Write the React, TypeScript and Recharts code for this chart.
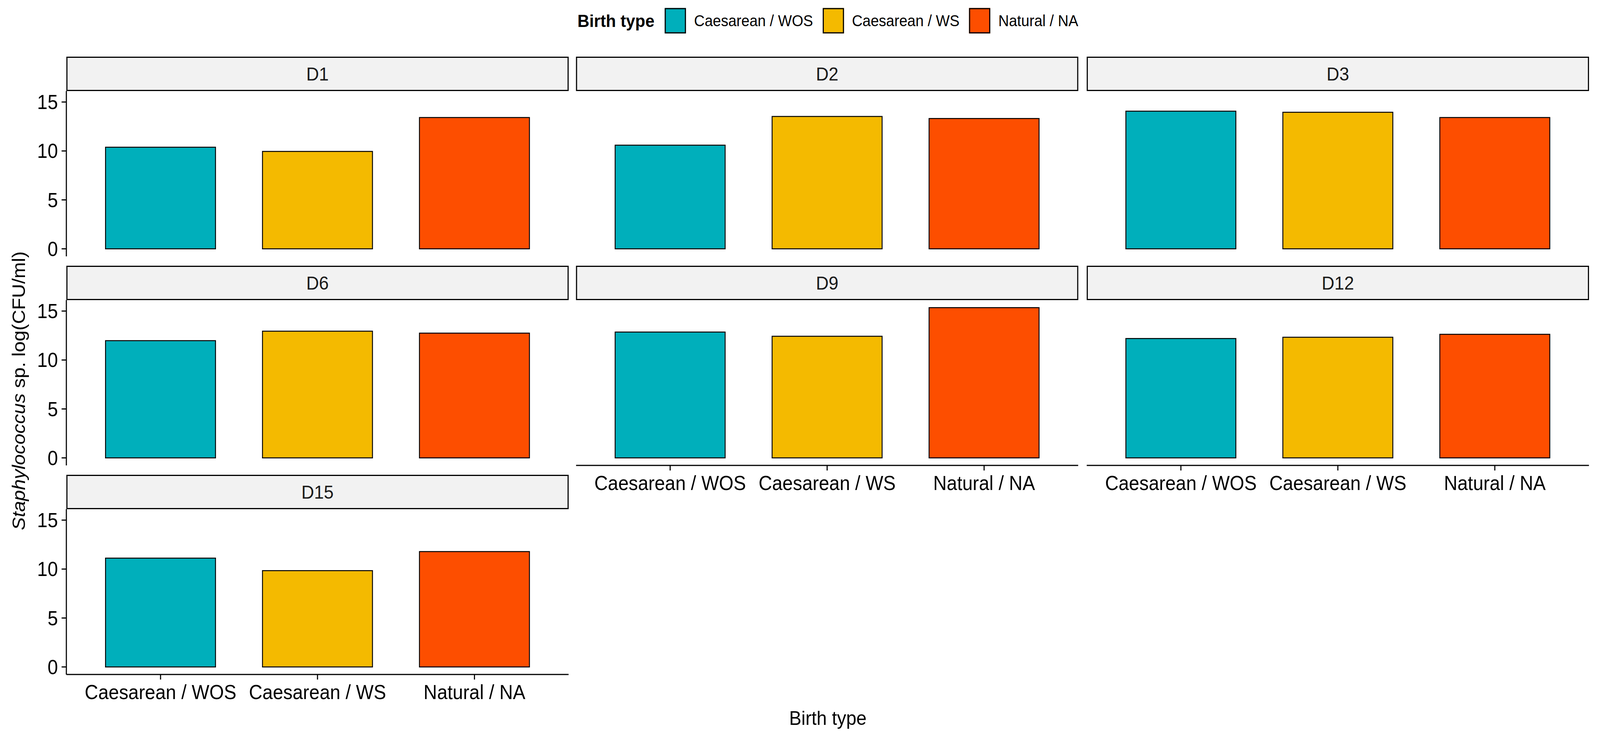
import React from "react"
import { BarChart, Bar, XAxis, YAxis, Cell } from "recharts"

// values, one entry per day panel
const days = ["D1", "D2", "D3", "D6", "D9", "D12", "D15"]
const categories = ["Caesarean / WOS", "Caesarean / WS", "Natural / NA"]
const caesareanWOS = [10.38, 10.59, 14.06, 11.98, 12.86, 12.2, 11.12]
const caesareanWS = [9.95, 13.52, 13.95, 12.95, 12.43, 12.33, 9.84]
const naturalNA = [13.41, 13.31, 13.41, 12.75, 15.35, 12.63, 11.79]
const colors = ["#00AFBB", "#F4BA00", "#FD4E00"]
const yTicks = [0, 5, 10, 15]

const FONT = '"Liberation Sans", Arial, sans-serif'
const PAGE_W = 4364
const PAGE_H = 1886
const colX = [181, 1571, 2964]
const stripTop = [145, 680, 1215]
const PANEL_W = 1370
const STRIP_H = 88
const PLOT_H = 423
const Y_AXIS_W = 181
const X_AXIS_H = 120
const EXTRA = 30 // room under panels without x axis so tick text is not clipped
const unit = PANEL_W / 3.2
const pad = (PANEL_W - 3 * unit) / 2

// which panels show an x axis (facet_wrap style: outer panels only)
const showX = [false, false, false, false, true, true, true]

function Panel({ idx }: { idx: number }) {
  const col = idx % 3
  const row = Math.floor(idx / 3)
  const hasY = col === 0
  const hasX = showX[idx]
  const values = [caesareanWOS[idx], caesareanWS[idx], naturalNA[idx]]
  const data = categories.map((c, i) => ({ name: c, value: values[i] }))
  const left = hasY ? colX[col] - Y_AXIS_W : colX[col]
  const top = stripTop[row] + STRIP_H
  const width = PANEL_W + (hasY ? Y_AXIS_W : 0)
  const height = PLOT_H + (hasX ? X_AXIS_H : EXTRA)

  return (
    <>
      <div
        style={{
          position: "absolute",
          left: colX[col],
          top: stripTop[row],
          width: PANEL_W,
          height: STRIP_H,
          boxSizing: "border-box",
          border: "3px solid #000",
          background: "#F2F2F2",
          display: "flex",
          alignItems: "center",
          justifyContent: "center",
          fontFamily: FONT,
          fontSize: 48,
          color: "#1a1a1a",
        }}
      >
        {days[idx]}
      </div>
      <div style={{ position: "absolute", left, top }}>
        <BarChart
          width={width}
          height={height}
          data={data}
          margin={{ top: 0, right: 0, bottom: hasX ? 0 : EXTRA, left: 0 }}
          style={{ overflow: "visible" }}
        >
          <XAxis
            dataKey="name"
            hide={!hasX}
            height={X_AXIS_H}
            padding={{ left: pad, right: pad }}
            axisLine={{ stroke: "#000", strokeWidth: 3 }}
            tickLine={{ stroke: "#000", strokeWidth: 3 }}
            tickSize={13}
            tickMargin={14}
            tick={{ fill: "#000", fontSize: 51, fontFamily: FONT }}
            interval={0}
          />
          <YAxis
            hide={!hasY}
            width={Y_AXIS_W}
            type="number"
            domain={[-0.77, 16.12]}
            allowDataOverflow
            ticks={yTicks}
            interval={0}
            axisLine={{ stroke: "#000", strokeWidth: 3 }}
            tickLine={{ stroke: "#000", strokeWidth: 3 }}
            tickSize={13}
            tickMargin={10}
            tick={{ fill: "#000", fontSize: 51, fontFamily: FONT }}
          />
          <Bar dataKey="value" barSize={Math.round(unit * 0.7)} stroke="#000" strokeWidth={2.5} isAnimationActive={false}>
            {data.map((d, i) => (
              <Cell key={d.name} fill={colors[i]} />
            ))}
          </Bar>
        </BarChart>
      </div>
    </>
  )
}

export default function App() {
  // the visible viewport can be narrower than the nominal window; fit the figure into it
  const vw = typeof window !== "undefined" ? window.innerWidth : PAGE_W
  const vh = typeof window !== "undefined" ? window.innerHeight : PAGE_H
  const sx = Math.min(1, vw / PAGE_W)
  const sy = Math.min(1, vh / PAGE_H)

  return (
    <div style={{ position: "absolute", left: 0, top: 0, width: PAGE_W * sx, height: PAGE_H * sy, overflow: "hidden" }}>
      <div
        style={{
          position: "absolute",
          left: 0,
          top: 0,
          width: PAGE_W,
          height: PAGE_H,
          background: "#fff",
          fontFamily: FONT,
          transform: `scale(${sx}, ${sy})`,
          transformOrigin: "0 0",
        }}
      >
        {/* legend */}
        <div style={{ position: "absolute", left: 1575, top: 53, transform: "translateY(-50%)", display: "flex", alignItems: "center" }}>
          <span style={{ fontWeight: "bold", fontSize: 45, marginRight: 28 }}>Birth type</span>
          {categories.map((c, i) => (
            <span key={c} style={{ display: "flex", alignItems: "center", marginRight: 26 }}>
              <span
                style={{
                  display: "inline-block",
                  width: 58,
                  height: 65,
                  boxSizing: "border-box",
                  border: "3px solid #000",
                  background: colors[i],
                  marginRight: 22,
                }}
              />
              <span style={{ fontSize: 40 }}>{c}</span>
            </span>
          ))}
        </div>

        {days.map((d, i) => (
          <Panel key={d} idx={i} />
        ))}

        {/* axis titles */}
        <svg width={PAGE_W} height={PAGE_H} style={{ position: "absolute", left: 0, top: 0, pointerEvents: "none" }}>
          <text x={2258} y={1855} textAnchor="middle" fontSize={50} fontFamily={FONT} fill="#000">
            Birth type
          </text>
          <text
            x={0}
            y={0}
            transform="translate(68, 1000) rotate(-90)"
            textAnchor="middle"
            fontSize={50}
            fontFamily={FONT}
            fill="#000"
          >
            <tspan fontStyle="italic">Staphylococcus</tspan>
            <tspan> sp. log(CFU/ml)</tspan>
          </text>
        </svg>
      </div>
    </div>
  )
}
